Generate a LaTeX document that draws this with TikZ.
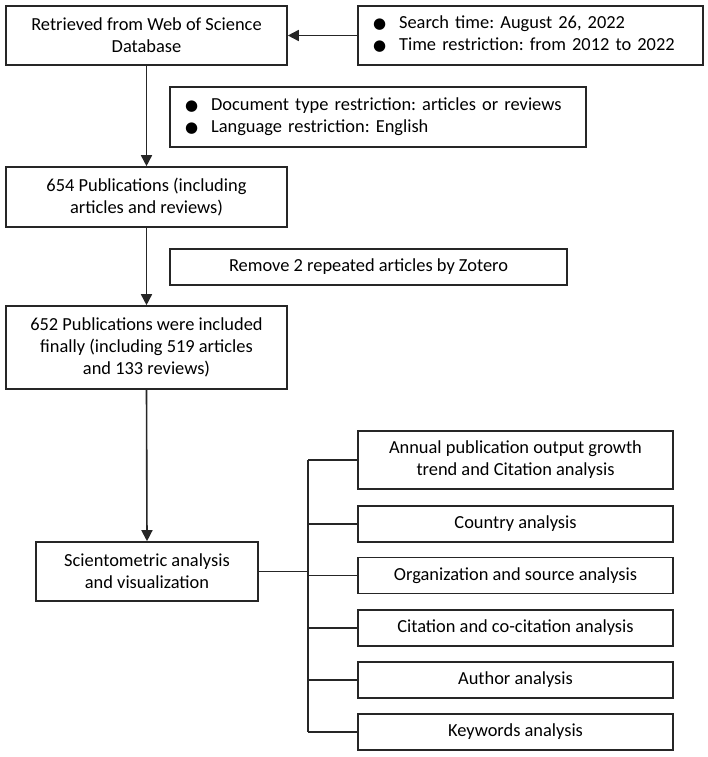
\documentclass[tikz,border=0pt]{standalone}
\usepackage{fontspec}
\setmainfont{Carlito}
\newfontfamily\dotfont{DejaVu Sans}
\usetikzlibrary{arrows.meta}
\frenchspacing

\newcommand{\dotitem}{{\dotfont\fontsize{15}{15}\selectfont ●}}

\begin{document}
\begin{tikzpicture}[x=1pt,y=-1pt,
		box/.style={draw=black!85, line width=1.6pt, align=center, inner sep=0pt, font=\fontsize{18.4}{22}\selectfont},
		listbox/.style={box, align=left, inner xsep=15pt},
		arr/.style={-{Triangle[length=11pt,width=11pt]}, line width=1.6pt, draw=black!85},
		lnk/.style={line width=1.6pt, draw=black!85}]
	\useasboundingbox (0,0) rectangle (708,757);
	
	% search steps
	\node[box, minimum width=281pt, minimum height=59pt] (wos) at (146.5,35.5) {Retrieved from Web of Science\\Database};
	\node[listbox, text width=315pt, minimum height=59pt] (srch) at (530.5,35.5) {\begin{tabular}{@{}l@{\hspace{13pt}}l@{}}\dotitem & Search time: August 26, 2022\\ \dotitem & Time restriction: from 2012 to 2022\end{tabular}};
	\node[listbox, text width=386pt, minimum height=60pt] (restr) at (378,117) {\begin{tabular}{@{}l@{\hspace{13pt}}l@{}}\dotitem & Document type restriction: articles or reviews\\ \dotitem & Language restriction: English\end{tabular}};
	\node[box, minimum width=281pt, minimum height=60pt] (pub) at (146.5,197) {654 Publications (including\\articles and reviews)};
	\node[box, minimum width=397pt, minimum height=36pt] (rmv) at (368.5,267) {Remove 2 repeated articles by Zotero};
	\node[box, minimum width=281pt, minimum height=83pt] (fin) at (146.5,347.5) {652 Publications were included\\finally (including 519 articles\\and 133 reviews)};
	\node[box, minimum width=222pt, minimum height=59pt] (sci) at (147,571.5) {Scientometric analysis\\and visualization};
	
	% analyses
	\node[box, minimum width=315pt, minimum height=58pt] (an1) at (515.5,460) {Annual publication output growth\\trend and Citation analysis};
	\node[box, minimum width=315pt, minimum height=36pt] (an2) at (515.5,524) {Country analysis};
	\node[box, minimum width=315pt, minimum height=36pt] (an3) at (515.5,575.5) {Organization and source analysis};
	\node[box, minimum width=315pt, minimum height=36pt] (an4) at (515.5,628) {Citation and co-citation analysis};
	\node[box, minimum width=315pt, minimum height=36pt] (an5) at (515.5,680) {Author analysis};
	\node[box, minimum width=315pt, minimum height=36pt] (an6) at (515.5,732) {Keywords analysis};
	
	\coordinate (trunk) at (308,0);
	
	\draw[arr] (srch.west) -- (wos.east);
	\draw[arr] (wos.south) -- (pub.north);
	\draw[arr] (pub.south) -- (fin.north);
	\draw[arr] (fin.south) -- (sci.north);
	
	\draw[lnk] (sci.east) -- (sci.east -| trunk);
	\draw[lnk] (an1.west -| trunk) -- (an6.west -| trunk);
	\foreach \n in {an1,an2,an3,an4,an5,an6} {
		\draw[lnk] (\n.west -| trunk) -- (\n.west);
	}
\end{tikzpicture}
\end{document}
